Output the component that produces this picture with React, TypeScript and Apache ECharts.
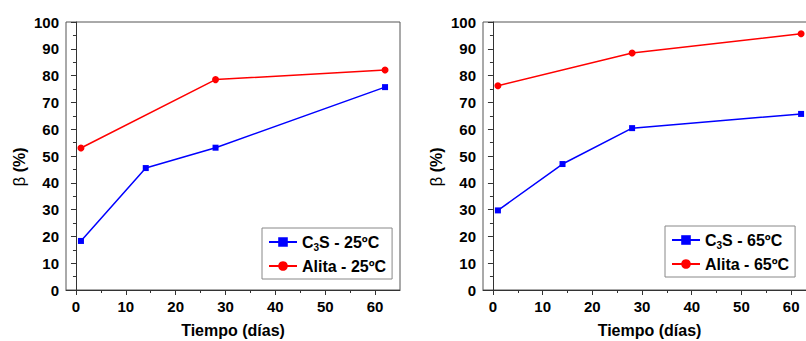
import React, { useEffect, useRef } from 'react';
import * as echarts from 'echarts';

const daysC3S = [1, 14, 28, 62];
const daysAlita = [1, 28, 62];
const c3s25 = [18.3, 45.5, 53.1, 75.7];
const alita25 = [53.0, 78.5, 82.1];
const c3s65 = [29.7, 47.0, 60.4, 65.7];
const alita65 = [76.2, 88.4, 95.6];
const xMajor = [0, 10, 20, 30, 40, 50, 60];
const xMinor = [5, 15, 25, 35, 45, 55];
const names25 = ['C3S - 25ºC', 'Alita - 25ºC'];
const names65 = ['C3S - 65ºC', 'Alita - 65ºC'];

const FONT = 'Liberation Sans, Arial, sans-serif';
const AX = '#333';

const zip = (xs: number[], ys: number[]) => xs.map((x, i) => [x, ys[i]]);

function mainX(gridIndex: number) {
  return {
    type: 'value', gridIndex, position: 'bottom', min: -2, max: 65,
    axisLine: { show: true, lineStyle: { color: AX, width: 1 } },
    axisTick: { show: true, customValues: xMajor, length: 5, lineStyle: { color: AX } },
    axisLabel: { customValues: xMajor, color: '#000', fontWeight: 'bold', fontSize: 15, fontFamily: FONT, margin: 9 },
    splitLine: { show: false },
    name: 'Tiempo (días)', nameLocation: 'middle', nameGap: 32,
    nameTextStyle: { color: '#000', fontWeight: 'bold', fontSize: 16, fontFamily: FONT },
  };
}
function minorX(gridIndex: number) {
  return {
    type: 'value', gridIndex, position: 'bottom', min: -2, max: 65,
    axisLine: { show: false },
    axisTick: { show: true, customValues: xMinor, length: 3, lineStyle: { color: AX } },
    axisLabel: { show: false },
    splitLine: { show: false },
  };
}
function yAx(gridIndex: number) {
  return {
    type: 'value', gridIndex, min: 0, max: 100, interval: 10,
    axisLine: { show: true, lineStyle: { color: AX, width: 1 } },
    axisTick: { show: true, length: 5, lineStyle: { color: AX } },
    minorTick: { show: true, splitNumber: 2, length: 3, lineStyle: { color: AX } },
    axisLabel: { color: '#000', fontWeight: 'bold', fontSize: 15, fontFamily: FONT, margin: 7 },
    splitLine: { show: false },
    minorSplitLine: { show: false },
    name: '{b|β} {p|(%)}', nameLocation: 'middle', nameGap: 38,
    nameTextStyle: {
      color: '#000', fontSize: 16, fontFamily: FONT, padding: [0, 22, 0, 0],
      rich: {
        b: { fontSize: 17, fontWeight: 'normal', color: '#000', fontFamily: FONT },
        p: { fontSize: 16, fontWeight: 'bold', color: '#000', fontFamily: FONT },
      },
    },
  };
}
function legend(left: number, top: number, data: string[]) {
  return {
    left, top, orient: 'vertical', data,
    padding: [6, 6, 5, 6], itemGap: 6, itemWidth: 28, itemHeight: 12,
    borderColor: '#888', borderWidth: 1, backgroundColor: '#fff',
    formatter: (name: string) =>
      name.startsWith('C3S') ? `{a|C}{s|3}{a|${name.slice(2)}}` : `{a|${name}}`,
    textStyle: {
      rich: {
        a: { fontSize: 16, fontWeight: 'bold', color: '#000', fontFamily: FONT },
        s: { fontSize: 10, fontWeight: 'bold', color: '#000', fontFamily: FONT, padding: [10, 0, 0, 0] },
      },
    },
  };
}
function series(name: string, xs: number[], ys: number[], ax: number, isC3S: boolean) {
  const color = isC3S ? '#0000ff' : '#ff0000';
  return {
    type: 'line', name, xAxisIndex: ax, yAxisIndex: ax === 0 ? 0 : 1,
    data: zip(xs, ys),
    symbol: isC3S ? 'rect' : 'circle', symbolSize: isC3S ? 6 : 7,
    itemStyle: { color }, lineStyle: { color, width: 1.5 },
  };
}

export default function App() {
  const ref = useRef<HTMLDivElement>(null);
  useEffect(() => {
    const chart = echarts.init(ref.current!, null, { renderer: 'svg' });
    chart.setOption({
      animation: false,
      backgroundColor: '#fff',
      grid: [
        { left: 66, top: 22, width: 334, height: 268, show: true, borderColor: '#555', borderWidth: 1, containLabel: false, outerBoundsMode: 'none' },
        { left: 483, top: 22, width: 333, height: 268, show: true, borderColor: '#555', borderWidth: 1, containLabel: false, outerBoundsMode: 'none' },
      ],
      xAxis: [mainX(0), minorX(0), mainX(1), minorX(1)],
      yAxis: [yAx(0), yAx(1)],
      legend: [legend(262, 228, names25), legend(665, 226, names65)],
      series: [
        series(names25[0], daysC3S, c3s25, 0, true),
        series(names25[1], daysAlita, alita25, 0, false),
        series(names65[0], daysC3S, c3s65, 2, true),
        series(names65[1], daysAlita, alita65, 2, false),
      ],
    });
    return () => chart.dispose();
  }, []);
  return <div ref={ref} style={{ position: 'fixed', left: 0, top: 0, width: 806, height: 341 }} />;
}
